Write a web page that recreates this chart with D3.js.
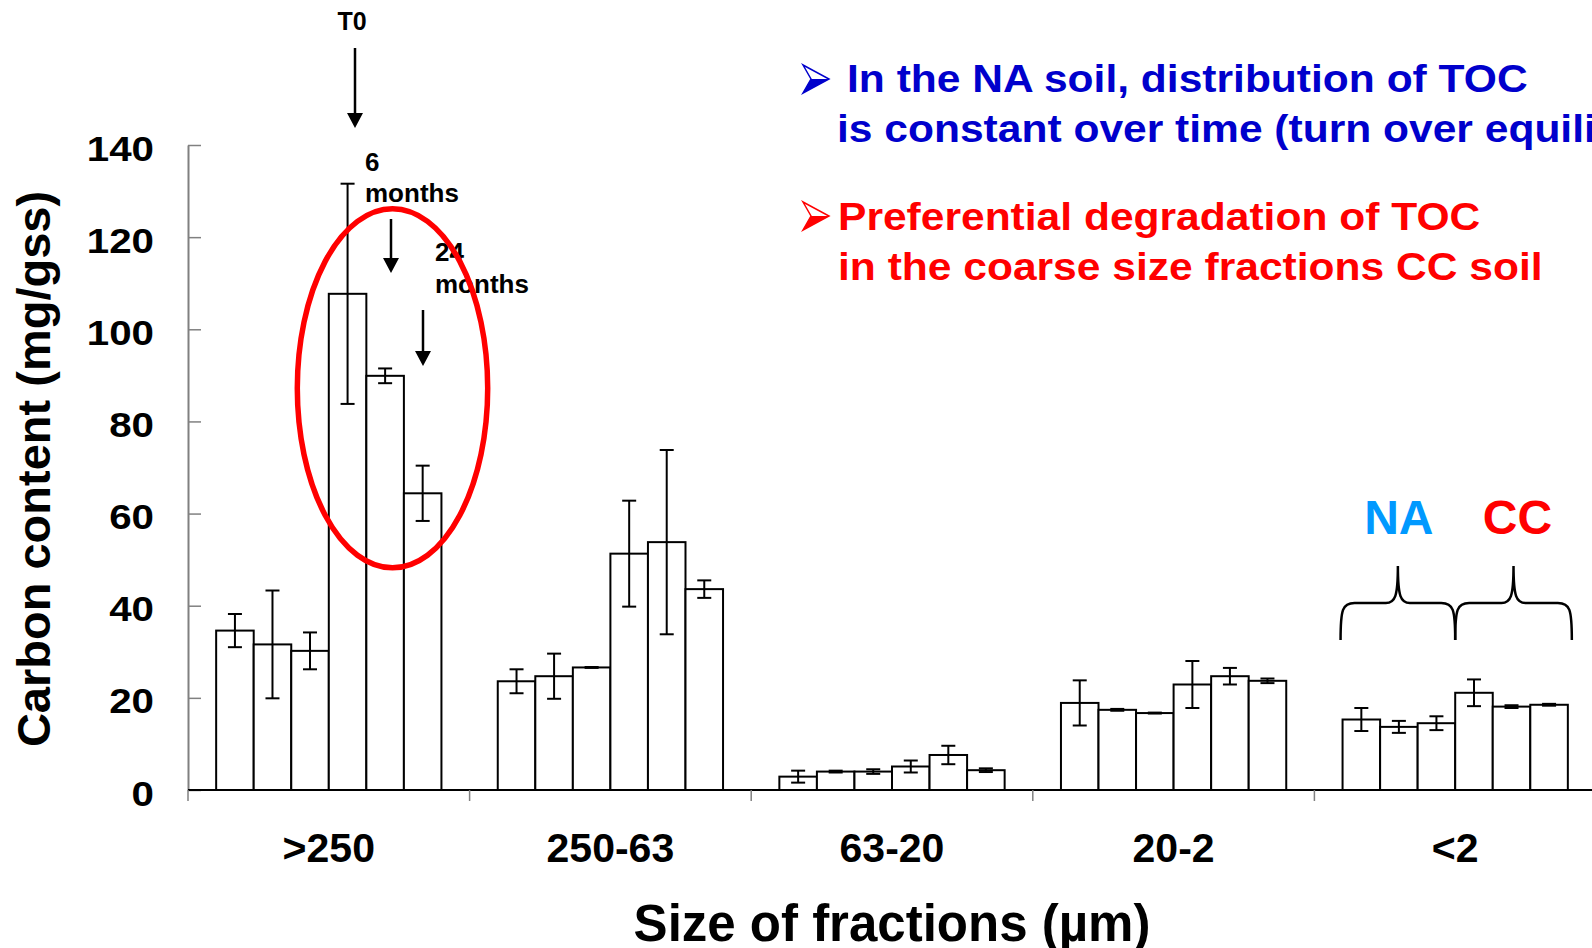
<!DOCTYPE html>
<html>
<head>
<meta charset="utf-8">
<script src="https://cdn.jsdelivr.net/npm/d3@7"></script>
<style>
body { margin: 0; background: #fff; }
svg { display: block; font-family: "Liberation Sans", Arial, sans-serif; font-weight: bold; }
</style>
</head>
<body>
<svg id="canvas" width="1592" height="948"></svg>
<script>
// size fractions (x categories)
const fractions = ['>250', '250-63', '63-20', '20-2', '<2']
const seriesNames = ['NA T0', 'NA 6 months', 'NA 24 months', 'CC T0', 'CC 6 months', 'CC 24 months']

// carbon content (mg/gss), one value per fraction
const naT0 = [34.6, 23.6, 2.9, 18.9, 15.3]
const na6m = [31.6, 24.7, 4.0, 17.4, 13.7]
const na24m = [30.2, 26.6, 4.0, 16.7, 14.5]
const ccT0 = [107.7, 51.3, 5.1, 22.9, 21.1]
const cc6m = [89.9, 53.8, 7.6, 24.7, 18.1]
const cc24m = [64.4, 43.6, 4.3, 23.7, 18.5]

// error bars (+/-)
const naT0Err = [3.6, 2.6, 1.3, 4.9, 2.5]
const na6mErr = [11.7, 4.9, 0.2, 0.2, 1.3]
const na24mErr = [4.0, 0.1, 0.5, 0.1, 1.5]
const ccT0Err = [23.9, 11.5, 1.3, 5.1, 2.9]
const cc6mErr = [1.6, 20.0, 2.0, 1.8, 0.3]
const cc24mErr = [6.0, 1.9, 0.4, 0.5, 0.2]

const yTicks = [0, 20, 40, 60, 80, 100, 120, 140]

const values = [naT0, na6m, na24m, ccT0, cc6m, cc24m]
const errors = [naT0Err, na6mErr, na24mErr, ccT0Err, cc6mErr, cc24mErr]

let canvas = d3.select('#canvas')

let x0 = d3.scaleBand().domain(fractions).range([188, 1596])
let x1 = d3.scaleBand().domain(d3.range(seriesNames.length))
    .range([0, x0.bandwidth()]).paddingOuter(0.75)
let y = d3.scaleLinear().domain([0, 140]).range([790, 145])

canvas.append('rect').attr('width', 1592).attr('height', 948).attr('fill', '#fff')

// build flat table for bars
let table = []
fractions.forEach((f, fi) => {
    seriesNames.forEach((s, si) => {
        table.push({ fraction: f, series: si, value: values[si][fi], err: errors[si][fi] })
    })
})

let drawAxes = () => {
    let yAxis = d3.axisLeft(y).tickValues(yTicks).tickSize(-13).tickSizeOuter(0).tickPadding(34)
    let g = canvas.append('g').attr('transform', 'translate(188,0)').call(yAxis)
    g.select('.domain').attr('stroke', '#808080').attr('stroke-width', 2)
    g.selectAll('.tick line').attr('stroke', '#808080').attr('stroke-width', 1.5)
    g.selectAll('.tick text')
        .attr('font-size', 36)
        .attr('font-family', '"Liberation Sans", Arial, sans-serif')
        .attr('font-weight', 'bold')
        .attr('fill', '#000')
        .attr('x', -34 / 1.12)
        .attr('dy', '0.42em')
        .attr('transform', 'scale(1.12,1)')

    // x axis line
    canvas.append('line')
        .attr('x1', 188).attr('x2', 1592)
        .attr('y1', y(0)).attr('y2', y(0))
        .attr('stroke', '#000').attr('stroke-width', 2)

    canvas.selectAll('.xtick')
        .data(fractions)
        .enter()
        .append('line')
        .attr('class', 'xtick')
        .attr('x1', d => x0(d)).attr('x2', d => x0(d))
        .attr('y1', y(0)).attr('y2', y(0) + 11)
        .attr('stroke', '#808080').attr('stroke-width', 1.5)

    canvas.selectAll('.xlabel')
        .data(fractions)
        .enter()
        .append('text')
        .attr('class', 'xlabel')
        .attr('x', d => x0(d) + x0.bandwidth() / 2)
        .attr('y', 862)
        .attr('text-anchor', 'middle')
        .attr('font-size', 41)
        .text(d => d)

    canvas.append('text')
        .attr('transform', 'translate(50,469) rotate(-90)')
        .attr('text-anchor', 'middle')
        .attr('font-size', 47)
        .text('Carbon content (mg/gss)')

    canvas.append('text')
        .attr('x', (188 + 1596) / 2)
        .attr('y', 941)
        .attr('text-anchor', 'middle')
        .attr('font-size', 51)
        .text('Size of fractions (µm)')
}

let drawBars = () => {
    canvas.selectAll('.bar')
        .data(table)
        .enter()
        .append('rect')
        .attr('class', 'bar')
        .attr('x', d => x0(d.fraction) + x1(d.series))
        .attr('width', x1.bandwidth())
        .attr('y', d => y(d.value))
        .attr('height', d => y(0) - y(d.value))
        .attr('fill', '#fff')
        .attr('stroke', '#000')
        .attr('stroke-width', 2)

    let cx = d => x0(d.fraction) + x1(d.series) + x1.bandwidth() / 2
    let eb = canvas.selectAll('.err')
        .data(table)
        .enter()
        .append('g')
        .attr('class', 'err')
        .attr('stroke', '#000')
        .attr('stroke-width', 2)
    eb.append('line')
        .attr('x1', cx).attr('x2', cx)
        .attr('y1', d => y(d.value + d.err)).attr('y2', d => y(d.value - d.err))
    eb.append('line')
        .attr('x1', d => cx(d) - 7).attr('x2', d => cx(d) + 7)
        .attr('y1', d => y(d.value + d.err)).attr('y2', d => y(d.value + d.err))
    eb.append('line')
        .attr('x1', d => cx(d) - 7).attr('x2', d => cx(d) + 7)
        .attr('y1', d => y(d.value - d.err)).attr('y2', d => y(d.value - d.err))
}

let arrowDown = (x, yTop, yTip) => {
    canvas.append('line')
        .attr('x1', x).attr('x2', x)
        .attr('y1', yTop).attr('y2', yTip - 12)
        .attr('stroke', '#000').attr('stroke-width', 2.5)
    canvas.append('path')
        .attr('d', `M${x - 8},${yTip - 15} L${x + 8},${yTip - 15} L${x},${yTip} Z`)
        .attr('fill', '#000')
}

let drawAnnotations = () => {
    canvas.append('text').attr('x', 352).attr('y', 30)
        .attr('text-anchor', 'middle').attr('font-size', 25).text('T0')
    arrowDown(355, 48, 128)

    canvas.append('text').attr('x', 365).attr('y', 171).attr('font-size', 26).text('6')
    canvas.append('text').attr('x', 365).attr('y', 202).attr('font-size', 26).text('months')
    arrowDown(391, 219, 273)

    canvas.append('text').attr('x', 435).attr('y', 261).attr('font-size', 26).text('24')
    canvas.append('text').attr('x', 435).attr('y', 293).attr('font-size', 26).text('months')
    arrowDown(423, 310, 366)

    canvas.append('ellipse')
        .attr('cx', 392.5).attr('cy', 388.3)
        .attr('rx', 95.2).attr('ry', 179.5)
        .attr('fill', 'none')
        .attr('stroke', '#ff0000')
        .attr('stroke-width', 5.5)

    // bullet texts
    let bullet = (x, yTop, color) => {
        canvas.append('path')
            .attr('d', `M${x},${yTop} L${x + 26},${yTop + 14} L${x},${yTop + 28} L${x + 8},${yTop + 14} Z`)
            .attr('fill', '#fff').attr('stroke', color).attr('stroke-width', 1.5)
        canvas.append('path')
            .attr('d', `M${x + 8},${yTop + 14} L${x + 26},${yTop + 14} L${x},${yTop + 28} Z`)
            .attr('fill', color)
    }
    let line = (x, yb, color, txt) => {
        canvas.append('text')
            .attr('transform', `translate(${x},${yb}) scale(1.12,1)`)
            .attr('font-size', 38)
            .attr('fill', color)
            .text(txt)
    }
    bullet(803, 65, '#0000cc')
    line(847, 92, '#0000cc', 'In the NA soil, distribution of TOC')
    line(837, 142, '#0000cc', 'is constant over time (turn over equilibrium)')
    bullet(803, 202, '#ff0000')
    line(838, 230, '#ff0000', 'Preferential degradation of TOC')
    line(838, 280, '#ff0000', 'in the coarse size fractions CC soil')

    // NA / CC braces over the last group
    let gx = x0('<2')
    let left = gx + x1(0) - 2
    let mid = gx + x0.bandwidth() / 2
    let right = gx + x1(5) + x1.bandwidth() + 4
    let yb = 640, yh = 603, yt = 566
    let brace = (a, b) => {
        let m = (a + b) / 2
        return `M${a},${yb} C${a},${yh + 6} ${a + 2},${yh} ${a + 14},${yh}` +
            ` L${m - 12},${yh} C${m - 3},${yh} ${m},${yh - 6} ${m},${yt}` +
            ` C${m},${yh - 6} ${m + 3},${yh} ${m + 12},${yh}` +
            ` L${b - 14},${yh} C${b - 2},${yh} ${b},${yh + 6} ${b},${yb}`
    }
    canvas.append('path').attr('d', brace(left, mid))
        .attr('fill', 'none').attr('stroke', '#000').attr('stroke-width', 2.5)
    canvas.append('path').attr('d', brace(mid, right))
        .attr('fill', 'none').attr('stroke', '#000').attr('stroke-width', 2.5)

    canvas.append('text').attr('x', (left + mid) / 2 + 1).attr('y', 534)
        .attr('text-anchor', 'middle').attr('font-size', 48).attr('fill', '#0099ff').text('NA')
    canvas.append('text').attr('x', (mid + right) / 2 + 4).attr('y', 534)
        .attr('text-anchor', 'middle').attr('font-size', 48).attr('fill', '#ff0000').text('CC')
}

drawAxes()
drawBars()
drawAnnotations()
</script>
</body>
</html>
